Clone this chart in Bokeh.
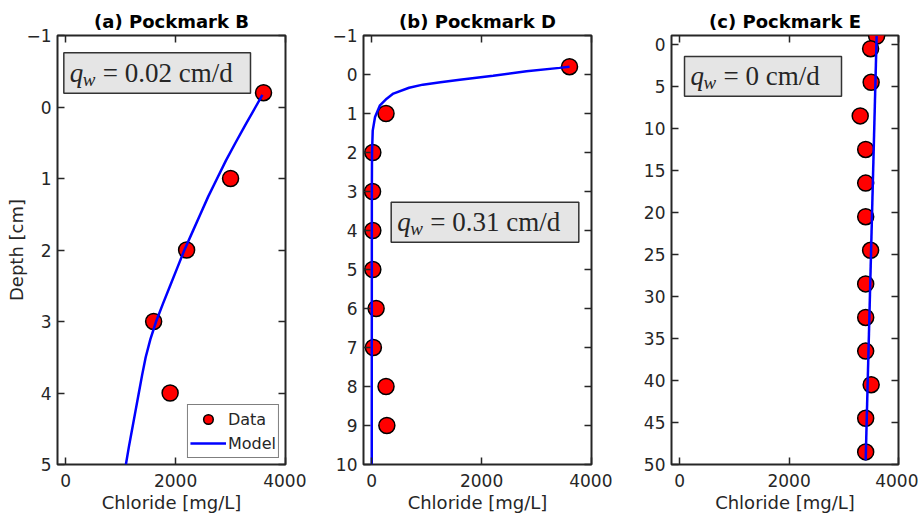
from bokeh.plotting import figure
from bokeh.layouts import row
from bokeh.models import (Range1d, LinearAxis, FixedTicker, BoxAnnotation, Label,
                          Legend, LegendItem, CustomLabelingPolicy)
from bokeh.embed import file_html
from bokeh.resources import INLINE

# ---------------- data ----------------
# (a) Pockmark B
b_data_cl = [3600, 3000, 2200, 1600, 1900]
b_data_depth = [-0.2, 1, 2, 3, 4]
b_model_depth = [-0.17, 0, 0.25, 0.5, 0.75, 1, 1.25, 1.5, 1.75, 2, 2.25, 2.5, 2.75, 3,
                 3.25, 3.5, 3.75, 4, 4.25, 4.5, 4.75, 5]
b_model_cl = [3580, 3455, 3270, 3090, 2915, 2755, 2595, 2450, 2305, 2160, 2030, 1900, 1770, 1645,
              1540, 1455, 1390, 1330, 1270, 1210, 1150, 1095]

# (b) Pockmark D
d_data_cl = [3600, 260, 20, 15, 20, 20, 80, 30, 260, 275]
d_data_depth = [-0.2, 1, 2, 3, 4, 5, 6, 7, 8, 9]
d_model_depth = [-0.2, -0.17, -0.085, 0.03, 0.136, 0.2, 0.26, 0.34, 0.49, 0.62, 0.79, 1.09, 1.44, 2, 3, 10]
d_model_cl = [3600, 3420, 2816, 2210, 1604, 1250, 930, 680, 393, 272, 150, 60, 18, 5, 2, 0]

# (c) Pockmark E
e_data_cl = [3600, 3490, 3500, 3300, 3400, 3400, 3400, 3490, 3400, 3400, 3400, 3500, 3400, 3400]
e_data_depth = [-1, 0.5, 4.5, 8.5, 12.5, 16.5, 20.5, 24.5, 28.5, 32.5, 36.5, 40.5, 44.5, 48.5]
e_model_depth = [-1, 49.5]
e_model_cl = [3600, 3400]

titles = ["(a) Pockmark B", "(b) Pockmark D", "(c) Pockmark E"]
qw_values = ["0.02", "0.31", "0"]
x_ticks = [0, 2000, 4000]
y_ticks_a = [-1, 0, 1, 2, 3, 4, 5]
y_ticks_b = [-1, 0, 1, 2, 3, 4, 5, 6, 7, 8, 9, 10]
y_ticks_c = [0, 5, 10, 15, 20, 25, 30, 35, 40, 45, 50]

FONT = "DejaVu Sans"
AXC = "#262626"

hide_all = "for (const i of indices) { indices.unset(i) }\nreturn indices"


def make_panel(title, ylims, yticks, dx, dy, mx, my, qw, box, left, right, ylabel=None):
    p = figure(width=306, height=519, output_backend="svg", toolbar_location=None,
               x_range=Range1d(-150, 4000), y_range=Range1d(ylims[0], ylims[1]),
               min_border_left=left, min_border_right=right,
               min_border_top=35, min_border_bottom=55,
               title=title, x_axis_label="Chloride [mg/L]", y_axis_label=ylabel)
    p.grid.visible = False
    p.background_fill_color = "white"
    p.border_fill_color = "white"
    p.outline_line_color = AXC
    p.outline_line_width = 2
    p.title.text_font = FONT
    p.title.text_font_size = "18px"
    p.title.text_font_style = "bold"
    p.title.align = "center"
    p.title.text_color = "black"
    p.title.standoff = 0

    for ax, ticks in ((p.xaxis[0], x_ticks), (p.yaxis[0], yticks)):
        ax.ticker = FixedTicker(ticks=ticks)
        ax.major_tick_in = 7
        ax.major_tick_out = 0
        ax.minor_tick_in = 0
        ax.minor_tick_out = 0
        ax.axis_line_color = None
        ax.major_tick_line_color = AXC
        ax.major_tick_line_width = 1.5
        ax.major_label_text_font = FONT
        ax.major_label_text_font_size = "17px"
        ax.major_label_text_color = AXC
        ax.axis_label_text_font = FONT
        ax.axis_label_text_font_size = "18px"
        ax.axis_label_text_font_style = "normal"
        ax.axis_label_text_color = AXC
    p.xaxis[0].major_label_standoff = 9
    p.xaxis[0].axis_label_standoff = 2
    p.yaxis[0].major_label_standoff = 6
    p.yaxis[0].axis_label_standoff = -4

    for loc, ticks in (("above", x_ticks), ("right", yticks)):
        ax = LinearAxis(ticker=FixedTicker(ticks=ticks), major_tick_in=7, major_tick_out=0,
                        minor_tick_in=0, minor_tick_out=0, axis_line_color=None,
                        major_tick_line_color=AXC, major_tick_line_width=1.5,
                        major_label_text_font_size="1px", major_label_standoff=0,
                        major_label_policy=CustomLabelingPolicy(code=hide_all))
        p.add_layout(ax, loc)

    sc = p.scatter(dx, dy, size=16, fill_color="#ff0000", line_color="black", line_width=1.5)
    ln = p.line(mx, my, line_color="#0000ff", line_width=2.5)

    bl, br, bt, bb = box
    p.add_layout(BoxAnnotation(left=bl, right=br, top=bt, bottom=bb,
                               fill_color="#e5e5e5", fill_alpha=1,
                               line_color="#333333", line_width=1.5, line_alpha=1))
    ymid = (bt + bb) / 2
    p.add_layout(Label(x=bl, y=ymid, x_offset=6, text="q", text_font="Liberation Serif",
                       text_font_style="italic", text_font_size="27px",
                       text_baseline="middle", text_color="#262626"))
    p.add_layout(Label(x=bl, y=ymid, x_offset=19, y_offset=-6, text="w", text_font="Liberation Serif",
                       text_font_style="italic", text_font_size="19px",
                       text_baseline="middle", text_color="#262626"))
    p.add_layout(Label(x=bl, y=ymid, x_offset=39, text="= " + qw + "  cm/d",
                       text_font="Liberation Serif", text_font_size="27px",
                       text_baseline="middle", text_color="#262626"))
    return p, sc, ln


pa, sca, lna = make_panel(titles[0], (5, -1), y_ticks_a, b_data_cl, b_data_depth,
                          b_model_cl, b_model_depth, qw_values[0],
                          (-35, 3363, -0.758, -0.193), 57, 21, ylabel="Depth [cm]")
pb, _, _ = make_panel(titles[1], (10, -1), y_ticks_b, d_data_cl, d_data_depth,
                      d_model_cl, d_model_depth, qw_values[1],
                      (354, 3769, 3.274, 4.30), 57, 21)
pc, _, _ = make_panel(titles[2], (50, -1.07), y_ticks_c, e_data_cl, e_data_depth,
                      e_model_cl, e_model_depth, qw_values[2],
                      (88, 2958, 1.43, 6.16), 59, 20)

legend = Legend(items=[LegendItem(label="Data", renderers=[sca]),
                       LegendItem(label="Model", renderers=[lna])],
                location="bottom_right")
legend.label_text_font = FONT
legend.label_text_font_size = "16px"
legend.label_text_color = AXC
legend.border_line_color = "black"
legend.border_line_width = 1.5
legend.background_fill_color = "white"
legend.background_fill_alpha = 1
legend.glyph_width = 36
legend.glyph_height = 24
legend.spacing = -2
legend.padding = 2
legend.margin = 6
legend.label_standoff = 2
pa.add_layout(legend)

layout = row(pa, pb, pc)
open("out.html", "w").write(file_html(layout, INLINE))
